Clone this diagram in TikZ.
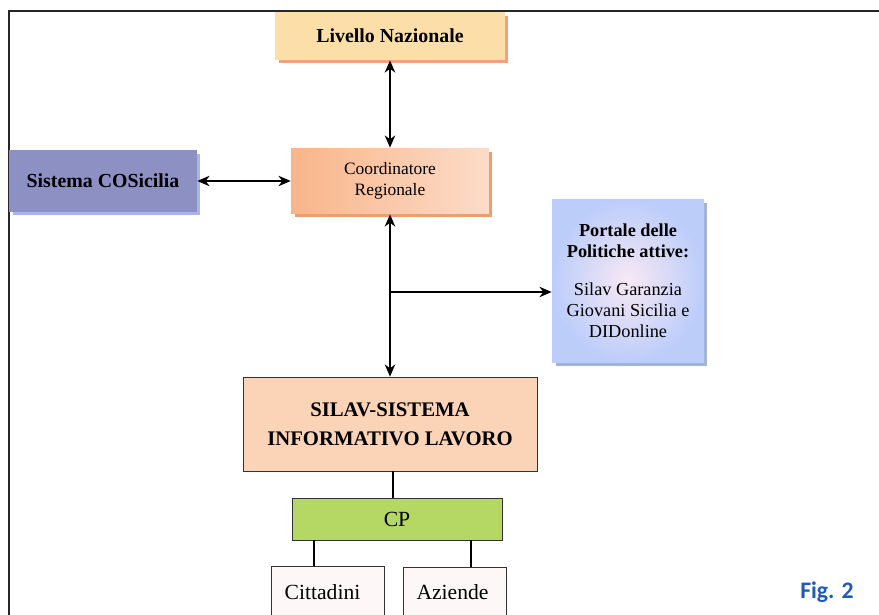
\documentclass[tikz,border=0pt]{standalone}
\usepackage{fontspec}
\setmainfont{Liberation Serif}
\newfontfamily\figfont{Carlito}
\usetikzlibrary{arrows.meta,shadows}
\definecolor{nazfill}{HTML}{FCDEA8}
\definecolor{nazshad}{HTML}{F4A27C}
\definecolor{cosfill}{HTML}{8D90C3}
\definecolor{cosshad}{HTML}{A9B3F0}
\definecolor{coorda}{HTML}{F8B58A}
\definecolor{coordb}{HTML}{FCDCC8}
\definecolor{coordshad}{HTML}{EE9E6E}
\definecolor{portblu}{HTML}{BCCDFA}
\definecolor{portpink}{HTML}{F8E8F4}
\definecolor{portshad}{HTML}{A3B3D6}
\definecolor{silavfill}{HTML}{FBD3B6}
\definecolor{cpfill}{HTML}{B5D864}
\definecolor{userfill}{HTML}{FDF8F7}
\definecolor{figblue}{HTML}{1E5BB8}
\begin{document}
\begin{tikzpicture}[x=0.02cm,y=-0.02cm,
    box/.style={rectangle,inner sep=0pt,align=center},
    shad/.style={drop shadow={shadow xshift=0.07cm,shadow yshift=-0.07cm,fill=#1,opacity=1}},
    link/.style={line width=0.8pt,{Stealth[length=7pt,width=6pt]}-{Stealth[length=7pt,width=6pt]}},
    plain/.style={line width=0.6pt},
    bigbold/.style={font=\fontsize{11.3}{13}\selectfont\bfseries},
    small/.style={font=\fontsize{9.9}{12}\selectfont}]
    \useasboundingbox (0,0) rectangle (879,615);
    \clip (0,0) rectangle (879,615);
    % page frame
    \draw [line width=1.2pt,black!85](9,620) -- (9,11) -- (880,11);
    % upper part
    \node [box,shad=nazshad,fill=nazfill,minimum width=4.6cm,minimum height=0.96cm,bigbold] (naz) at (390,36) {Livello Nazionale};
    \node [box,shad=cosshad,fill=cosfill,minimum width=3.76cm,minimum height=1.24cm,bigbold] (cos) at (103,181) {Sistema COSicilia};
    \node [box,shad=coordshad,shading angle=135,left color=coorda,right color=coordb,minimum width=3.96cm,minimum height=1.32cm,small] (coord) at (390,181) {Coordinatore\\Regionale};
    \node [box,shad=portshad,inner color=portpink,outer color=portblu,minimum width=3.04cm,minimum height=3.26cm,font=\fontsize{10.4}{12}\selectfont] (port) at (628,281)
        {\textbf{Portale delle}\\\textbf{Politiche attive:}\\[0.9em]Silav Garanzia\\Giovani Sicilia e\\DIDonline};
    % lower part
    \node [box,draw=black!80,fill=silavfill,minimum width=5.88cm,minimum height=1.88cm,font=\fontsize{11.8}{16.5}\selectfont\bfseries] (silav) at (390,424) {SILAV-SISTEMA\\INFORMATIVO LAVORO};
    \node [box,draw=black!80,fill=cpfill,minimum width=4.2cm,minimum height=0.84cm,font=\fontsize{12.3}{14}\selectfont] (cp) at (397,519) {CP};
    \node [box,draw=black!80,fill=userfill,minimum width=2.26cm,minimum height=1.04cm,font=\fontsize{12.3}{14}\selectfont] (citt) at (328,592) {\hspace*{-0.22cm}Cittadini};
    \node [box,draw=black!80,fill=userfill,minimum width=2.06cm,minimum height=1.0cm,font=\fontsize{12.3}{14}\selectfont] (azi) at (455,592) {\hspace*{-0.1cm}Aziende};
    \node [font=\figfont\fontsize{13.5}{15}\selectfont\bfseries,text=figblue] (fig) at (827,592) {Fig. 2};
    % connectors
    \draw [link] (naz) -- (coord);
    \draw [link] (cos) -- (coord);
    \draw [link] (coord) -- (silav);
    \coordinate (br) at (390,292);
    \draw [line width=0.8pt,-{Stealth[length=7pt,width=6pt]}] (br) -- (br -| port.west);
    \draw [plain] ([xshift=0.06cm]silav.south) -- ([xshift=0.06cm]silav.south |- cp.north);
    \draw [plain] ([xshift=-0.28cm]citt.north) -- ([xshift=-0.28cm]citt.north |- cp.south);
    \draw [plain] ([xshift=0.32cm]azi.north) -- ([xshift=0.32cm]azi.north |- cp.south);
\end{tikzpicture}
\end{document}
